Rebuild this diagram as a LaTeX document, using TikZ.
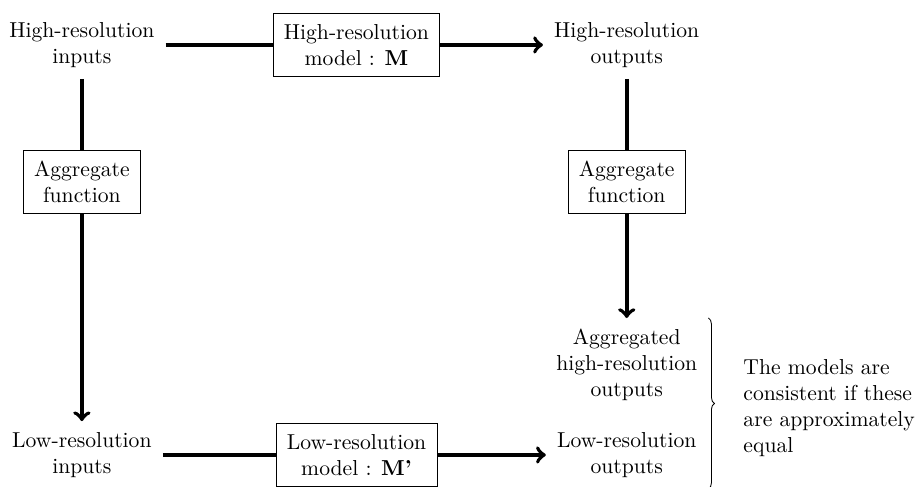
\documentclass[tikz,border=0pt]{standalone}
\usepackage{amsmath}
\usepackage{tikz}
\usetikzlibrary{positioning}
\usetikzlibrary{decorations.pathreplacing}

\begin{document}
\begin{tikzpicture}[
    txt/.style={align=center, inner sep=5pt},
    box/.style={txt, draw},
    flow/.style={line width=1.8pt},
]
    \useasboundingbox (0,0) rectangle (14.96,-7.91);

    % high-resolution row
    \node[txt] (hrin) at (1.33,-0.73) {High-resolution\\inputs};
    \node[box] (hrmodel) at (5.79,-0.73) {High-resolution\\model : \textbf{M}};
    \node[txt] (hrout) at (10.18,-0.73) {High-resolution\\outputs};

    % aggregation step on both sides
    \node[box] (aggin) at (1.33,-2.96) {Aggregate\\function};
    \node[box] (aggout) at (10.18,-2.96) {Aggregate\\function};
    \node[txt] (aggregated) at (10.18,-5.93) {Aggregated\\high-resolution\\outputs};

    % low-resolution row
    \node[txt] (lrin) at (1.33,-7.39) {Low-resolution\\inputs};
    \node[box] (lrmodel) at (5.79,-7.39) {Low-resolution\\model : \textbf{M'}};
    \node[txt] (lrout) at (10.18,-7.39) {Low-resolution\\outputs};

    \draw[flow] (hrin) -- (hrmodel);
    \draw[flow, ->] (hrmodel) -- (hrout);
    \draw[flow] (hrin) -- (aggin);
    \draw[flow, ->] (aggin) -- (lrin);
    \draw[flow] (hrout) -- (aggout);
    \draw[flow, ->] (aggout) -- (aggregated);
    \draw[flow] (lrin) -- (lrmodel);
    \draw[flow, ->] (lrmodel) -- (lrout);

    % brace grouping the two outputs
    \draw[decorate, decoration={brace, amplitude=2.8pt}]
        (aggregated.north east) -- (aggregated.north east |- lrout.south)
        node[midway, right=11pt, yshift=-2pt, text width=81pt, align=left, inner sep=5pt] (note)
        {The models are consistent if these are approximately equal};
\end{tikzpicture}
\end{document}
